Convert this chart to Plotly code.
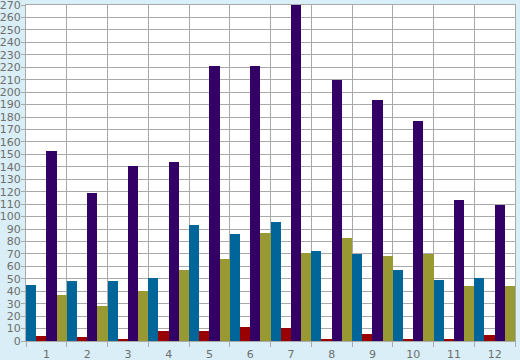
import plotly.graph_objects as go

categories = ["1", "2", "3", "4", "5", "6", "7", "8", "9", "10", "11", "12"]
blue_vals = [45, 48, 48, 51, 93, 86, 96, 72, 70, 57, 49, 51]
red_vals = [4, 3.5, 2, 8, 8, 11.5, 10.5, 2, 6, 2, 2, 5]
purple_vals = [153, 119, 141, 144, 221, 221, 270, 210, 194, 177, 113, 109]
olive_vals = [37, 28, 40, 57, 66, 87, 71, 83, 68, 70, 44, 44]

series = [
    ("Series 1", blue_vals, "#006699"),
    ("Series 2", red_vals, "#990000"),
    ("Series 3", purple_vals, "#330066"),
    ("Series 4", olive_vals, "#999933"),
]

fig = go.Figure()
for name, vals, color in series:
    fig.add_trace(go.Bar(x=categories, y=vals, name=name, hoverinfo="skip",
                         marker=dict(color=color, line=dict(width=0))))

grid = "#A9A9A9"
fig.update_layout(
    width=520, height=360,
    margin=dict(l=26, r=5, t=5, b=19, pad=0, autoexpand=False),
    paper_bgcolor="#D9EEF6",
    plot_bgcolor="#FFFFFF",
    barmode="group", bargap=0, bargroupgap=0,
    showlegend=False, hovermode=False,
    font=dict(family="DejaVu Sans", size=11, color="#6E6E6E"),
    xaxis=dict(type="category", tickson="boundaries", showgrid=True,
               gridcolor=grid, gridwidth=1, ticks="outside", ticklen=5,
               tickcolor=grid, showline=True, linecolor=grid, mirror=True,
               tickfont=dict(size=11), automargin=False,
               ticklabelstandoff=3, ticklabeloverflow="allow"),
    yaxis=dict(range=[0, 270], dtick=10, showgrid=True, gridcolor=grid,
               gridwidth=1, ticks="outside", ticklen=4, tickcolor=grid,
               showline=True, linecolor=grid, mirror=True, zeroline=False,
               tickfont=dict(size=11), automargin=False,
               ticklabelstandoff=-2, ticklabeloverflow="allow"),
)
fig.write_html("out.html", config={"displayModeBar": False, "staticPlot": True},
               post_script="document.body.style.margin='0';document.body.style.padding='0';")
